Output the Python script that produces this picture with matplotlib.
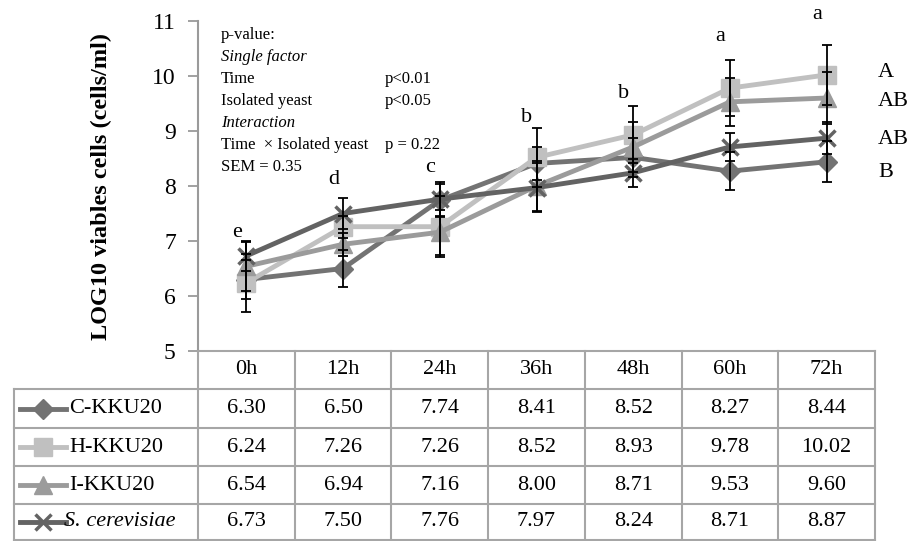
import matplotlib
matplotlib.use("Agg")
import matplotlib.pyplot as plt
from matplotlib.lines import Line2D

plt.rcParams["font.family"] = ["Liberation Serif", "DejaVu Serif"]

# data
times = ["0h", "12h", "24h", "36h", "48h", "60h", "72h"]
c_kku20 = [6.30, 6.50, 7.74, 8.41, 8.52, 8.27, 8.44]
h_kku20 = [6.24, 7.26, 7.26, 8.52, 8.93, 9.78, 10.02]
i_kku20 = [6.54, 6.94, 7.16, 8.00, 8.71, 9.53, 9.60]
s_cerev = [6.73, 7.50, 7.76, 7.97, 8.24, 8.71, 8.87]
c_err = [0.35, 0.34, 0.30, 0.30, 0.35, 0.35, 0.37]
h_err = [0.53, 0.20, 0.55, 0.53, 0.52, 0.51, 0.54]
i_err = [0.45, 0.21, 0.41, 0.45, 0.45, 0.43, 0.47]
s_err = [0.27, 0.28, 0.31, 0.44, 0.25, 0.25, 0.29]
time_letters = ["e", "d", "c", "b", "b", "a", "a"]
letter_y = [7.16, 8.11, 8.33, 9.25, 9.69, 10.71, 11.11]
group_letters = ["A", "AB", "AB", "B"]
group_y = [10.07, 9.53, 8.84, 8.25]

series = [
    ("C-KKU20", c_kku20, c_err, "#737373", "D", 10, "normal"),
    ("H-KKU20", h_kku20, h_err, "#c0c0c0", "s", 12.5, "normal"),
    ("I-KKU20", i_kku20, i_err, "#9b9b9b", "^", 12.5, "normal"),
    ("S. cerevisiae", s_cerev, s_err, "#636363", "x", 12, "italic"),
]

W, H = 917, 541
fig = plt.figure(figsize=(W / 100, H / 100), dpi=100)


def fx(x):
    return x / W


def fy(y):
    return 1 - y / H


ax = fig.add_axes([fx(198), fy(351), fx(875) - fx(198), fy(21) - fy(351)])
xs = list(range(len(times)))
for k, (name, vals, err, col, mk, ms, style) in enumerate(series):
    ax.plot(xs, vals, color=col, lw=3.5, marker=mk, ms=ms, mew=2.5 if mk == "x" else 1,
            mec=col, mfc=col, zorder=2 + k)
    ax.errorbar(xs, vals, yerr=err, fmt="none", ecolor="black", elinewidth=1.3,
                capsize=3.8, capthick=1.3, zorder=10)

for i, (lt, ly) in enumerate(zip(time_letters, letter_y)):
    ax.text(i - 0.1, ly, lt, ha="center", va="center", fontsize=16, clip_on=False)
for gl, gy in zip(group_letters, group_y):
    ax.text(6.53, gy, gl, ha="left", va="center", fontsize=16, clip_on=False)

ax.set_xlim(-0.5, 6.5)
ax.set_ylim(5, 11)
ax.set_yticks(range(5, 12))
ax.set_xticks([])
for s in ["top", "right", "bottom"]:
    ax.spines[s].set_visible(False)
ax.spines["left"].set_color("#9a9a9a")
ax.spines["left"].set_linewidth(1.5)
ax.tick_params(axis="y", direction="out", length=7, width=1.3, color="#9a9a9a",
               labelsize=17, pad=9)

fig.text(fx(101), fy(186), "LOG10 viables cells (cells/ml)", rotation=90,
         ha="center", va="center", fontsize=17.5, fontweight="bold")

# p-value box
pv_lines = [("p-value:", "normal", ""), ("Single factor", "italic", ""),
            ("Time", "normal", "p<0.01"), ("Isolated yeast", "normal", "p<0.05"),
            ("Interaction", "italic", ""), ("Time  \u00d7 Isolated yeast", "normal", "p = 0.22"),
            ("SEM = 0.35", "normal", "")]
for j, (t1, st, t2) in enumerate(pv_lines):
    yy = 35 + j * 22
    fig.text(fx(221), fy(yy), t1, ha="left", va="center", fontsize=12, style=st)
    if t2:
        fig.text(fx(385), fy(yy), t2, ha="left", va="center", fontsize=12)

# data table below the chart
grid = "#a6a6a6"
col_edges = [198 + (875 - 198) * i / len(times) for i in range(len(times) + 1)]
row_edges = [351, 389, 428, 466, 504, 540]
tl = dict(color=grid, lw=1.5, transform=fig.transFigure, clip_on=False)
fig.add_artist(Line2D([fx(198), fx(875)], [fy(351), fy(351)], **tl))
for y in row_edges[1:]:
    fig.add_artist(Line2D([fx(14), fx(875)], [fy(y), fy(y)], **tl))
for x in col_edges:
    fig.add_artist(Line2D([fx(x), fx(x)], [fy(351), fy(540)], **tl))
fig.add_artist(Line2D([fx(14), fx(14)], [fy(389), fy(540)], **tl))

for i, t in enumerate(times):
    cx = (col_edges[i] + col_edges[i + 1]) / 2
    fig.text(fx(cx), fy(370), t, ha="center", va="center", fontsize=16)

for r, (name, vals, err, col, mk, ms, style) in enumerate(series):
    cy = (row_edges[r + 1] + row_edges[r + 2]) / 2
    fig.add_artist(Line2D([fx(20), fx(66)], [fy(cy), fy(cy)], color=col, lw=3.5,
                          transform=fig.transFigure))
    fig.add_artist(Line2D([fx(43)], [fy(cy)], color=col, marker=mk, ms=ms,
                          mew=2.5 if mk == "x" else 1, mec=col, mfc=col,
                          transform=fig.transFigure))
    fig.text(fx(69 if mk != "x" else 64), fy(cy), name, ha="left", va="center",
             fontsize=16, style=style)
    for i, v in enumerate(vals):
        cx = (col_edges[i] + col_edges[i + 1]) / 2
        fig.text(fx(cx), fy(cy), f"{v:.2f}", ha="center", va="center", fontsize=16)

fig.savefig("out.png", dpi=100)
